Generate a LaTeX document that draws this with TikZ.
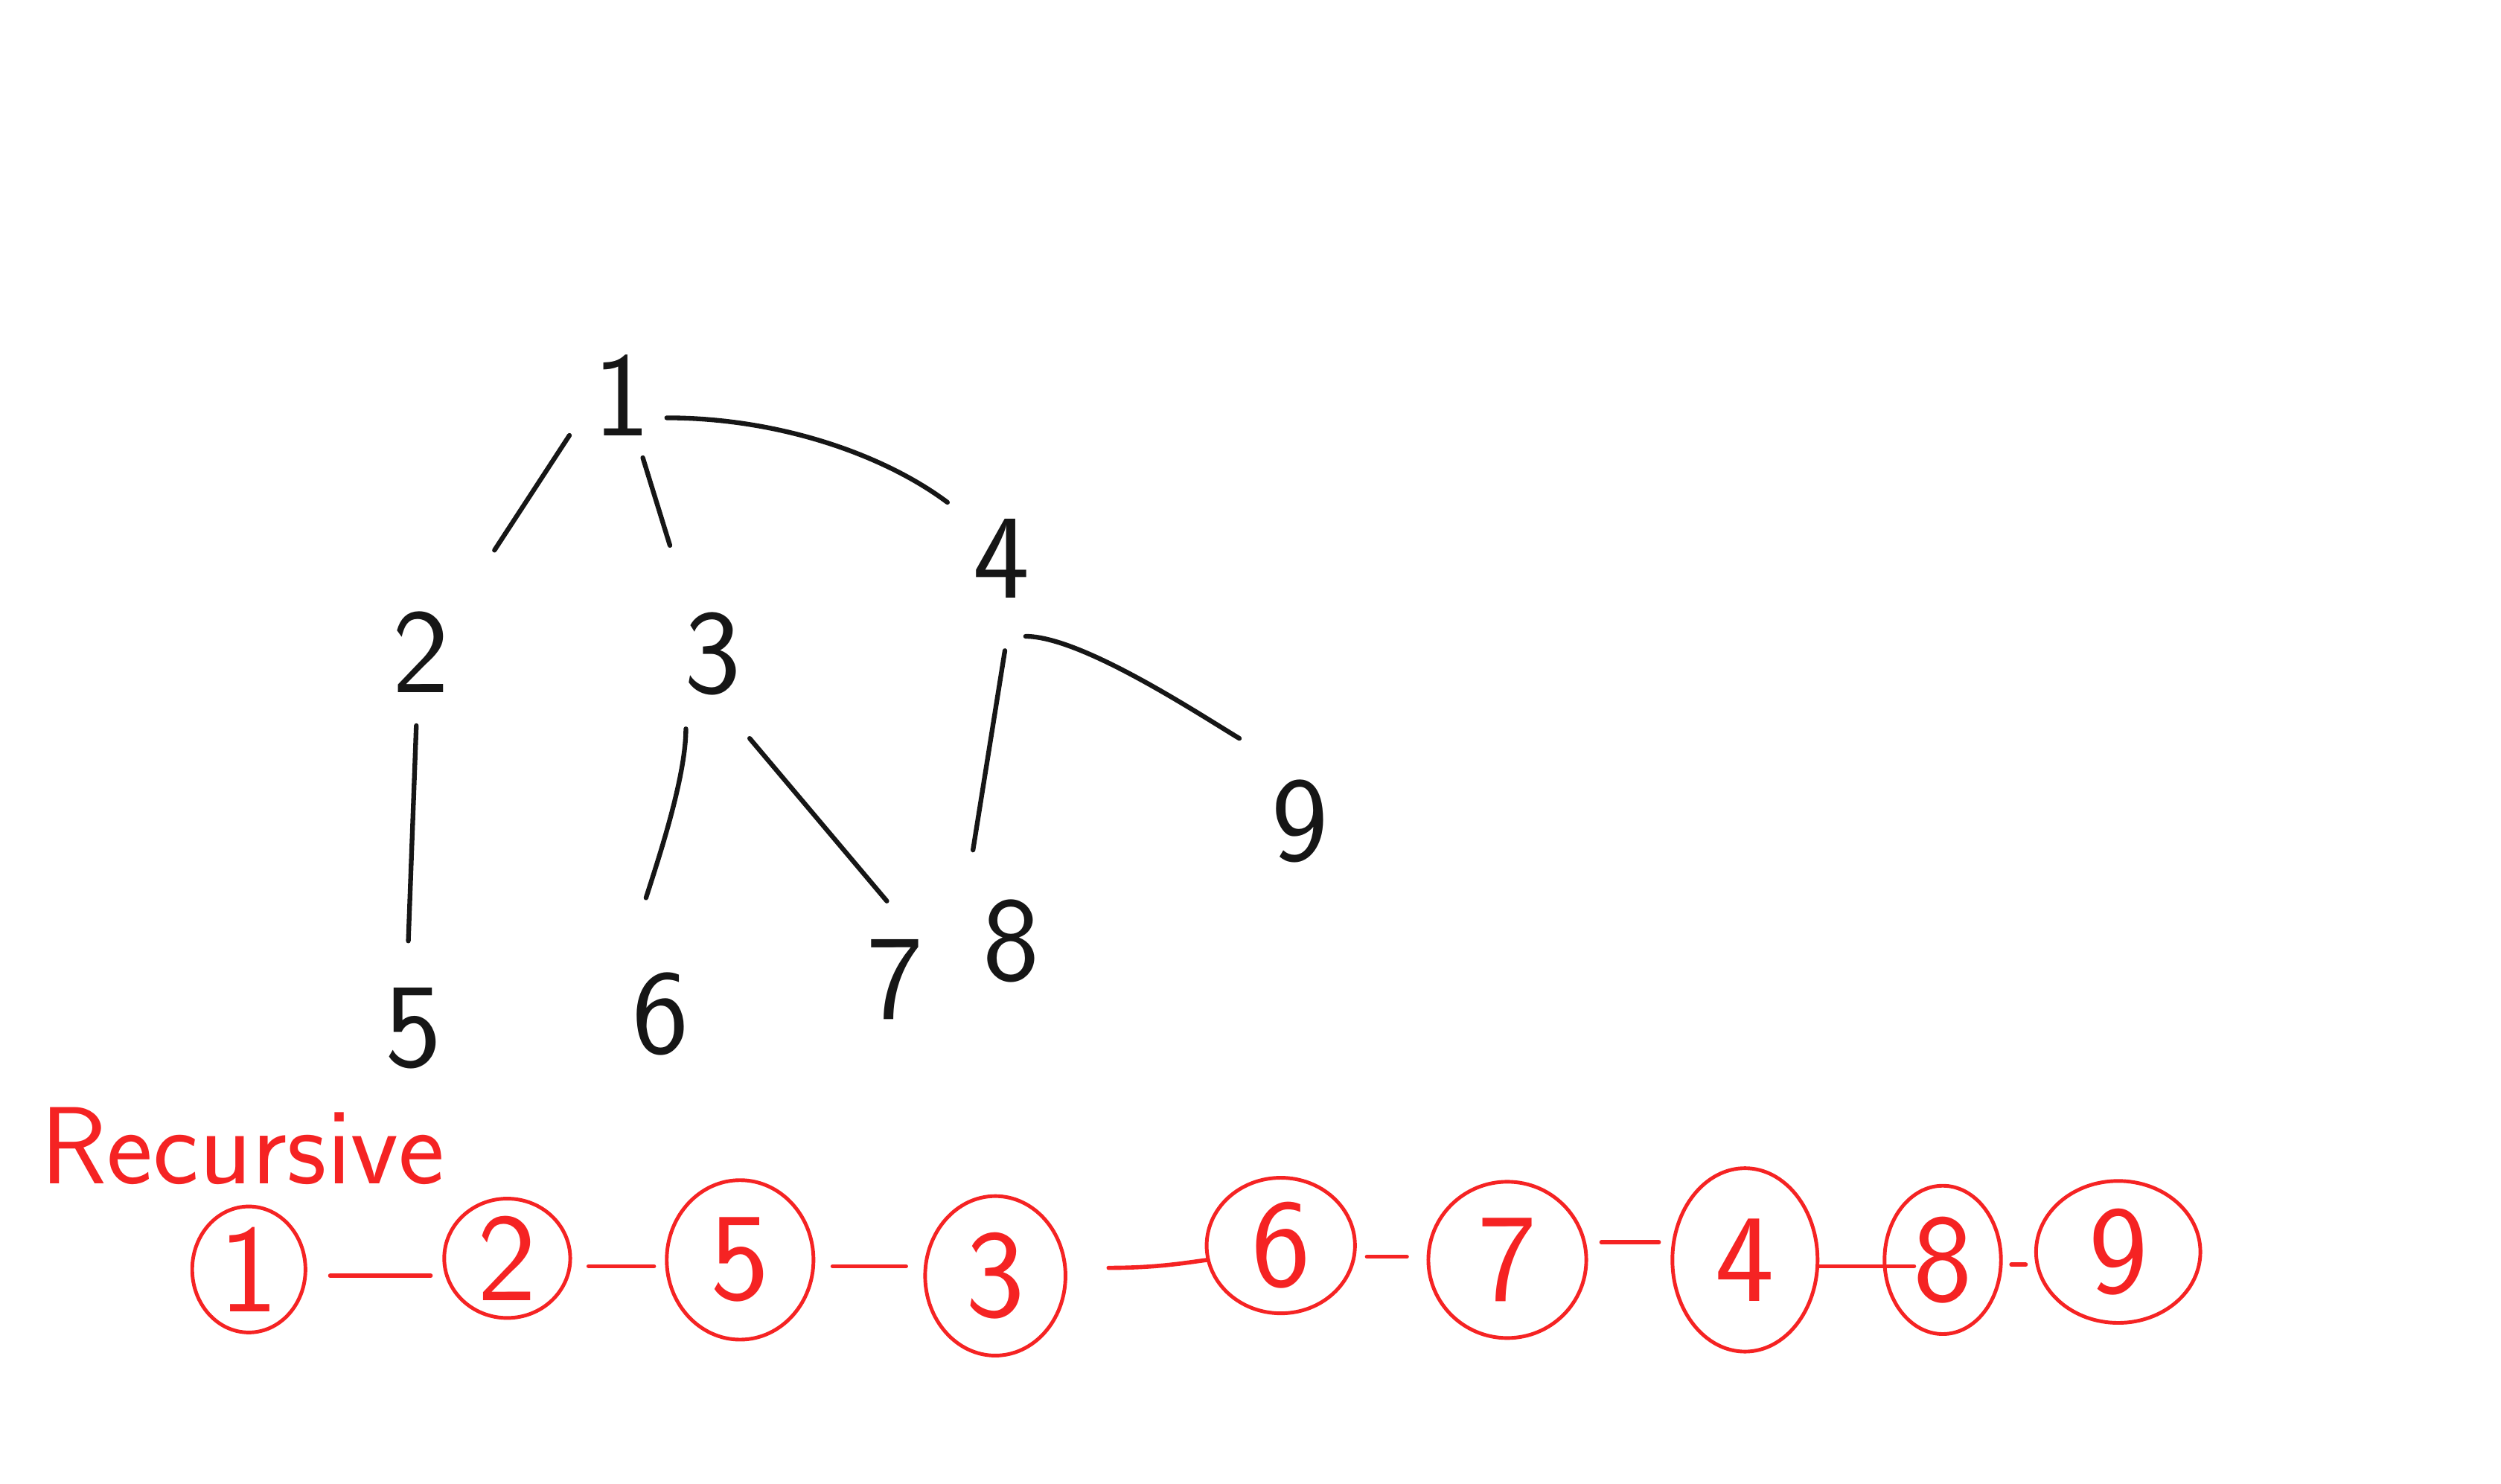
\documentclass[tikz,border=0pt]{standalone}
\usetikzlibrary{shapes.geometric}
\definecolor{inkblack}{RGB}{22,22,22}
\definecolor{inkred}{RGB}{245,35,35}
\newlength\dpx
\setlength\dpx{0.0214286cm}
\begin{document}
\begin{tikzpicture}[x=0.0214286cm, y=-0.0214286cm,
  treenum/.style={font=\sffamily\fontsize{46}{46}\selectfont, text=inkblack, inner sep=0pt},
  treeedge/.style={draw=inkblack, line width=1.8pt, line cap=round},
  chainnum/.style={ellipse, draw=inkred, line width=1.4pt, text=inkred, inner sep=0pt,
    font=\sffamily\fontsize{48}{48}\selectfont},
  csize/.style 2 args={minimum width=#1\dpx, minimum height=#2\dpx},
  chainedge/.style={draw=inkred, line width=1.6pt, line cap=round},
  titletext/.style={font=\sffamily\fontsize{42}{42}\selectfont, text=inkred, inner sep=0pt, anchor=base west}]
\useasboundingbox (0,0) rectangle (1568,930.5);

% tree
\node[treenum] (n1) at (390,248) {1};
\node[treenum] (n2) at (264,409) {2};
\node[treenum] (n3) at (447,410) {3};
\node[treenum] (n4) at (628,350) {4};
\node[treenum] (n5) at (259,645) {5};
\node[treenum] (n6) at (414,636) {6};
\node[treenum] (n7) at (561,614) {7};
\node[treenum] (n8) at (634,590) {8};
\node[treenum] (n9) at (815,515) {9};

\draw[treeedge] ([shift={(-33,25)}]n1.center) -- ([shift={(46,-64)}]n2.center);
\draw[treeedge] ([shift={(13,39)}]n1.center) -- ([shift={(-27,-68)}]n3.center);
\draw[treeedge] ([shift={(28,14)}]n1.center) .. controls +(70,0) and +(-40,-30) .. ([shift={(-34,-35)}]n4.center);
\draw[treeedge] ([shift={(-3,46)}]n2.center) -- ([shift={(-3,-55)}]n5.center);
\draw[treeedge] ([shift={(-17,47)}]n3.center) .. controls +(0,30) and +(8,-25) .. ([shift={(-9,-73)}]n6.center);
\draw[treeedge] ([shift={(23,53)}]n3.center) -- ([shift={(-5,-49)}]n7.center);
\draw[treeedge] ([shift={(2,58)}]n4.center) -- ([shift={(-24,-57)}]n8.center);
\draw[treeedge] ([shift={(15,49)}]n4.center) .. controls +(35,0) and +(-25,-15) .. ([shift={(-38,-52)}]n9.center);

% title
\node[titletext] (title) at (25,742) {Recursive};

% chain
\node[chainnum, csize={71}{79}] (c1) at (156,796) {1};
\node[chainnum, csize={79}{73}] (c2) at (318,789) {2};
\node[chainnum, csize={92}{100}] (c5) at (464,790) {5};
\node[chainnum, csize={88}{100}] (c3) at (624,800) {3};
\node[chainnum, csize={93}{85}] (c6) at (803,781) {6};
\node[chainnum, csize={99}{98}] (c7) at (945,790) {7};
\node[chainnum, csize={91}{115}] (c4) at (1094,790) {4};
\node[chainnum, csize={73}{93}] (c8) at (1218,790) {8};
\node[chainnum, csize={103}{89}] (c9) at (1328,785) {9};

\draw[chainedge] ([shift={(51,4)}]c1.center) -- ([shift={(-48,11)}]c2.center);
\draw[chainedge] ([shift={(51,5)}]c2.center) -- ([shift={(-54,4)}]c5.center);
\draw[chainedge] ([shift={(58,4)}]c5.center) -- ([shift={(-56,-6)}]c3.center);
\draw[chainedge] ([shift={(71,-5)}]c3.center) .. controls +(30,0) and +(-15,2) .. ([shift={(-46,9)}]c6.center);
\draw[chainedge] ([shift={(54,7)}]c6.center) -- ([shift={(-63,-2)}]c7.center);
\draw[chainedge] ([shift={(59,-11)}]c7.center) -- ([shift={(-54,-11)}]c4.center);
\draw[chainedge] ([shift={(46,4)}]c4.center) -- ([shift={(-18,4)}]c8.center);
\draw[chainedge] ([shift={(43,3)}]c8.center) -- ([shift={(-58,8)}]c9.center);
\end{tikzpicture}
\end{document}
